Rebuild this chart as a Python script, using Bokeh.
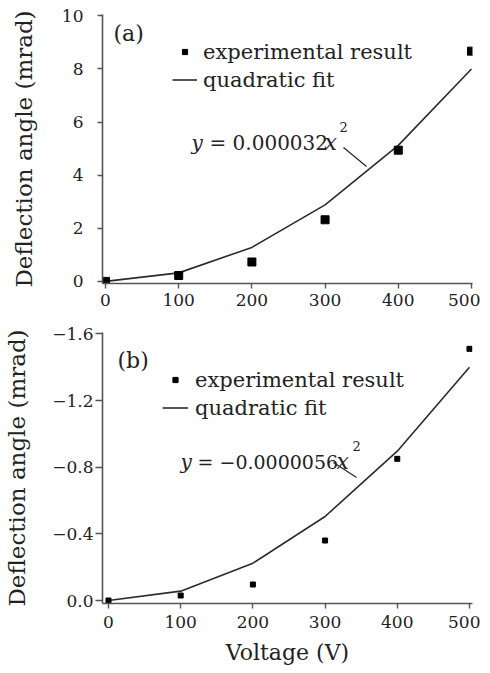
from bokeh.plotting import figure
from bokeh.models import Range1d, FixedTicker, Label, Legend, LegendItem
from bokeh.layouts import column
from bokeh.embed import file_html
from bokeh.resources import INLINE

# ---------------- data ----------------
voltage = [0, 100, 200, 300, 400, 500]
exp_a = [0.0, 0.22, 0.73, 2.32, 4.94, 8.67]
fit_a = [0.0, 0.32, 1.28, 2.88, 5.12, 8.00]
exp_b = [0.0, -0.03, -0.096, -0.36, -0.85, -1.51]
fit_b = [0.0, -0.056, -0.224, -0.504, -0.896, -1.40]

x_ticks = [0, 100, 200, 300, 400, 500]
y_ticks_a = [0, 2, 4, 6, 8, 10]
y_ticks_b = [0.0, -0.4, -0.8, -1.2, -1.6]
y_tick_labels_b = ["0.0", "\u22120.4", "\u22120.8", "\u22121.2", "\u22121.6"]

legend_labels = ["experimental result", "quadratic fit"]
panel_labels = ["(a)", "(b)"]
eq_coef = ["= 0.000032", "= \u22120.0000056"]
x_label = "Voltage (V)"
y_label = "Deflection angle (mrad)"

FONT = "DejaVu Serif"
AX = "#555555"
LINE = "#2b2b2b"
TXT = "#222222"


def style(p, y_ticker, tick_out, y_standoff, x_standoff, ylab_standoff):
    p.outline_line_color = None
    p.xgrid.visible = False
    p.ygrid.visible = False
    p.background_fill_color = "white"
    p.border_fill_color = "white"
    p.xaxis.ticker = FixedTicker(ticks=x_ticks)
    p.yaxis.ticker = FixedTicker(ticks=y_ticker)
    for ax in (p.xaxis, p.yaxis):
        ax.axis_line_color = AX
        ax.axis_line_width = 1.6
        ax.major_tick_line_color = AX
        ax.major_tick_line_width = 1.4
        ax.minor_tick_line_color = None
        ax.major_tick_in = 0
        ax.major_label_text_font = FONT
        ax.major_label_text_font_size = "17px"
        ax.major_label_text_color = TXT
        ax.axis_label_text_font = FONT
        ax.axis_label_text_font_style = "normal"
        ax.axis_label_text_color = TXT
    p.yaxis.axis_label_text_font_size = "23px"
    p.xaxis.axis_label_text_font_size = "22px"
    p.yaxis.major_tick_out = tick_out
    p.xaxis.major_tick_out = 5
    p.yaxis.major_label_standoff = y_standoff
    p.xaxis.major_label_standoff = x_standoff
    p.yaxis.axis_label = y_label
    p.yaxis.axis_label_standoff = ylab_standoff


def make_conv(fl, ft, fw, fh, xr, yr):
    def conv(px, py):
        x = xr[0] + (px - fl) / fw * (xr[1] - xr[0])
        y = yr[0] + (ft + fh - py) / fh * (yr[1] - yr[0])
        return x, y
    return conv


def add_text(p, conv, px, py, text, size, style_="normal", baseline="alphabetic"):
    x, y = conv(px, py)
    p.add_layout(Label(x=x, y=y, text=text, text_font=FONT, text_font_size=size,
                       text_font_style=style_, text_color=TXT,
                       text_baseline=baseline, text_align="left"))


def make_legend(renderers, loc, gw, standoff):
    return Legend(items=[LegendItem(label=legend_labels[0], renderers=[renderers[0]]),
                         LegendItem(label=legend_labels[1], renderers=[renderers[1]])],
                  location=loc, margin=0, padding=0, spacing=3,
                  glyph_width=gw, glyph_height=13, label_height=25, label_standoff=standoff,
                  label_text_font=FONT, label_text_font_size="21px", label_text_color=TXT,
                  border_line_color=None, background_fill_alpha=0)


FL, FW = 102, 370   # shared frame left / width (column aligns frames)

# ---------------- panel (a) ----------------
xr_a = (-4.1, 501.4)
yr_a = (-0.08, 10.05)
pa = figure(width=480, height=316, x_range=Range1d(*xr_a), y_range=Range1d(*yr_a),
            output_backend="svg", toolbar_location=None,
            min_border_left=FL, min_border_right=480 - FL - FW, min_border_top=14, min_border_bottom=33)
style(pa, y_ticks_a, 5, 14, 5, 22)
pa.yaxis.major_label_overrides = {v: str(v) for v in y_ticks_a}

line_a = pa.line(voltage, fit_a, line_color=LINE, line_width=1.6)
sq_a = pa.scatter(voltage, exp_a, marker="square", size=8, fill_color="black", line_color="black")

conv_a = make_conv(FL, 14, FW, 269, xr_a, yr_a)
add_text(pa, conv_a, 113, 33, panel_labels[0], "22px", baseline="middle")
add_text(pa, conv_a, 191, 142, "y", "20px", "italic")
add_text(pa, conv_a, 209, 142, eq_coef[0], "20px")
add_text(pa, conv_a, 324, 142, "x", "22px", "italic")
add_text(pa, conv_a, 339, 126, "2", "13px")
x0, y0 = conv_a(343, 147)
x1, y1 = conv_a(366, 166)
pa.segment(x0=[x0], y0=[y0], x1=[x1], y1=[y1], line_color=LINE, line_width=1.3)

pa.add_layout(make_legend([sq_a, line_a], (70, 191), 25, 6))

# ---------------- panel (b) ----------------
xr_b = (-8.3, 504.2)
yr_b = (0.018, -1.608)
pb = figure(width=480, height=356, x_range=Range1d(*xr_b), y_range=Range1d(*yr_b),
            output_backend="svg", toolbar_location=None,
            min_border_left=FL, min_border_right=480 - FL - FW, min_border_top=16, min_border_bottom=69)
style(pb, y_ticks_b, 7, 2, 7, 19)
pb.yaxis.major_label_overrides = {v: s for v, s in zip(y_ticks_b, y_tick_labels_b)}
pb.xaxis.axis_label = x_label
pb.xaxis.axis_label_standoff = 9

line_b = pb.line(voltage, fit_b, line_color=LINE, line_width=1.6)
sq_b = pb.scatter(voltage, exp_b, marker="square", size=5, fill_color="black", line_color="black")

conv_b = make_conv(FL, 332, FW, 271, xr_b, yr_b)
add_text(pb, conv_b, 117, 360, panel_labels[1], "22px", baseline="middle")
add_text(pb, conv_b, 180, 461, "y", "20px", "italic")
add_text(pb, conv_b, 197, 461, eq_coef[1], "19px")
add_text(pb, conv_b, 336, 461, "x", "22px", "italic")
add_text(pb, conv_b, 352, 445, "2", "13px")
x0, y0 = conv_b(333, 462)
x1, y1 = conv_b(356, 477)
pb.segment(x0=[x0], y0=[y0], x1=[x1], y1=[y1], line_color=LINE, line_width=1.3)

pb.add_layout(make_legend([sq_b, line_b], (60, 183), 26, 7))

layout = column(pa, pb, spacing=0)
open("out.html", "w").write(file_html(layout, INLINE))
